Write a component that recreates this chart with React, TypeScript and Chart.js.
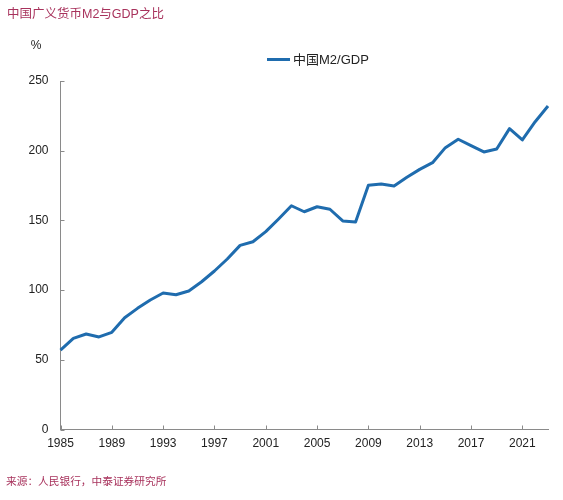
import React, { useEffect, useRef } from "react";
import { Chart, registerables } from "chart.js";

Chart.register(...registerables);

const years = [
  "1985", "1986", "1987", "1988", "1989", "1990", "1991", "1992", "1993", "1994",
  "1995", "1996", "1997", "1998", "1999", "2000", "2001", "2002", "2003", "2004",
  "2005", "2006", "2007", "2008", "2009", "2010", "2011", "2012", "2013", "2014",
  "2015", "2016", "2017", "2018", "2019", "2020", "2021", "2022", "2023",
];

const m2ToGdp = [
  57.0, 65.4, 68.5, 66.4, 69.7, 80.2, 86.9, 92.9, 97.9, 96.7,
  99.4, 106.0, 113.7, 122.3, 132.1, 134.7, 141.9, 151.0, 160.5, 156.2,
  159.8, 158.0, 149.6, 148.9, 175.2, 176.1, 174.7, 180.9, 186.6, 191.4,
  202.2, 208.2, 203.6, 199.1, 201.2, 215.8, 207.7, 220.8, 232.1,
];

const xTickLabels = ["1985", "1989", "1993", "1997", "2001", "2005", "2009", "2013", "2017", "2021"];
const yTickValues = [0, 50, 100, 150, 200, 250];

const seriesLabel = "中国M2/GDP";
const titleText = "中国广义货币M2与GDP之比";
const sourceText = "来源：人民银行，中泰证券研究所";
const unitText = "%";

const LINE_COLOR = "#1f6cae";
const AXIS_COLOR = "#8a8a8a";
const RED_TEXT = "#a8325c";
const FONT = '"Liberation Sans", Arial, "Noto Sans CJK SC", sans-serif';
const NARROW_FONT = '"Liberation Sans Narrow", "Arial Narrow", "Liberation Sans", Arial, sans-serif';

const decorPlugin = {
  id: "decor",
  afterDraw(chart: any) {
    const { ctx, chartArea, scales } = chart;
    const x = scales.x;
    const y = scales.y;
    ctx.save();
    // inward tick marks
    ctx.strokeStyle = AXIS_COLOR;
    ctx.lineWidth = 1;
    ctx.beginPath();
    yTickValues.forEach((v) => {
      const py = Math.round(y.getPixelForValue(v)) + 0.5;
      ctx.moveTo(chartArea.left, py);
      ctx.lineTo(chartArea.left + 4, py);
    });
    xTickLabels.forEach((lab) => {
      const idx = years.indexOf(lab);
      const px = Math.round(x.getPixelForValue(idx)) + 0.5;
      ctx.moveTo(px, chartArea.bottom);
      ctx.lineTo(px, chartArea.bottom - 4);
    });
    ctx.stroke();

    // title
    ctx.textBaseline = "middle";
    ctx.textAlign = "left";
    ctx.fillStyle = RED_TEXT;
    ctx.font = `12.5px ${FONT}`;
    ctx.fillText(titleText, 7, 15);

    // source
    ctx.font = `10.7px ${FONT}`;
    ctx.fillText(sourceText, 6, 482);

    // unit
    ctx.fillStyle = "#222";
    ctx.textAlign = "center";
    ctx.font = `12px ${FONT}`;
    ctx.fillText(unitText, 36, 46);

    // legend
    const ds = chart.data.datasets[0];
    ctx.strokeStyle = ds.borderColor;
    ctx.lineWidth = 3;
    ctx.beginPath();
    ctx.moveTo(267, 59.5);
    ctx.lineTo(290, 59.5);
    ctx.stroke();
    ctx.fillStyle = "#222";
    ctx.textAlign = "left";
    ctx.font = `13px ${FONT}`;
    ctx.fillText(ds.label, 293, 60);
    ctx.restore();
  },
};

export default function App() {
  const canvasRef = useRef<HTMLCanvasElement | null>(null);

  useEffect(() => {
    if (!canvasRef.current) return;
    const chart = new Chart(canvasRef.current, {
      type: "line",
      data: {
        labels: years,
        datasets: [
          {
            label: seriesLabel,
            data: m2ToGdp,
            borderColor: LINE_COLOR,
            backgroundColor: LINE_COLOR,
            borderWidth: 3,
            pointRadius: 0,
            tension: 0,
            fill: false,
            borderJoinStyle: "round",
          },
        ],
      },
      options: {
        responsive: false,
        animation: false,
        layout: { padding: { top: 81, right: 15, bottom: 0, left: 0 } },
        plugins: {
          legend: { display: false },
          tooltip: { enabled: false },
          title: { display: false },
        },
        scales: {
          x: {
            type: "category",
            offset: false,
            grid: { display: false, drawTicks: false },
            border: { display: true, color: AXIS_COLOR, width: 1 },
            ticks: {
              autoSkip: false,
              maxRotation: 0,
              minRotation: 0,
              padding: 7,
              color: "#222",
              font: { family: NARROW_FONT, size: 12 },
              callback: (_v: any, i: number) => (xTickLabels.includes(years[i]) ? years[i] : ""),
            },
            afterFit: (s: any) => {
              s.height = 70.5;
            },
          },
          y: {
            min: 0,
            max: 250,
            grid: { display: false, drawTicks: false },
            border: { display: true, color: AXIS_COLOR, width: 1 },
            ticks: {
              stepSize: 50,
              padding: 12,
              color: "#222",
              font: { family: FONT, size: 12 },
            },
            afterFit: (s: any) => {
              s.width = 60.5;
            },
          },
        },
      },
      plugins: [decorPlugin],
    });
    return () => chart.destroy();
  }, []);

  return (
    <div style={{ position: "fixed", left: 0, top: 0, width: 563, height: 500, background: "#fff" }}>
      <canvas ref={canvasRef} width={563} height={500} />
    </div>
  );
}
